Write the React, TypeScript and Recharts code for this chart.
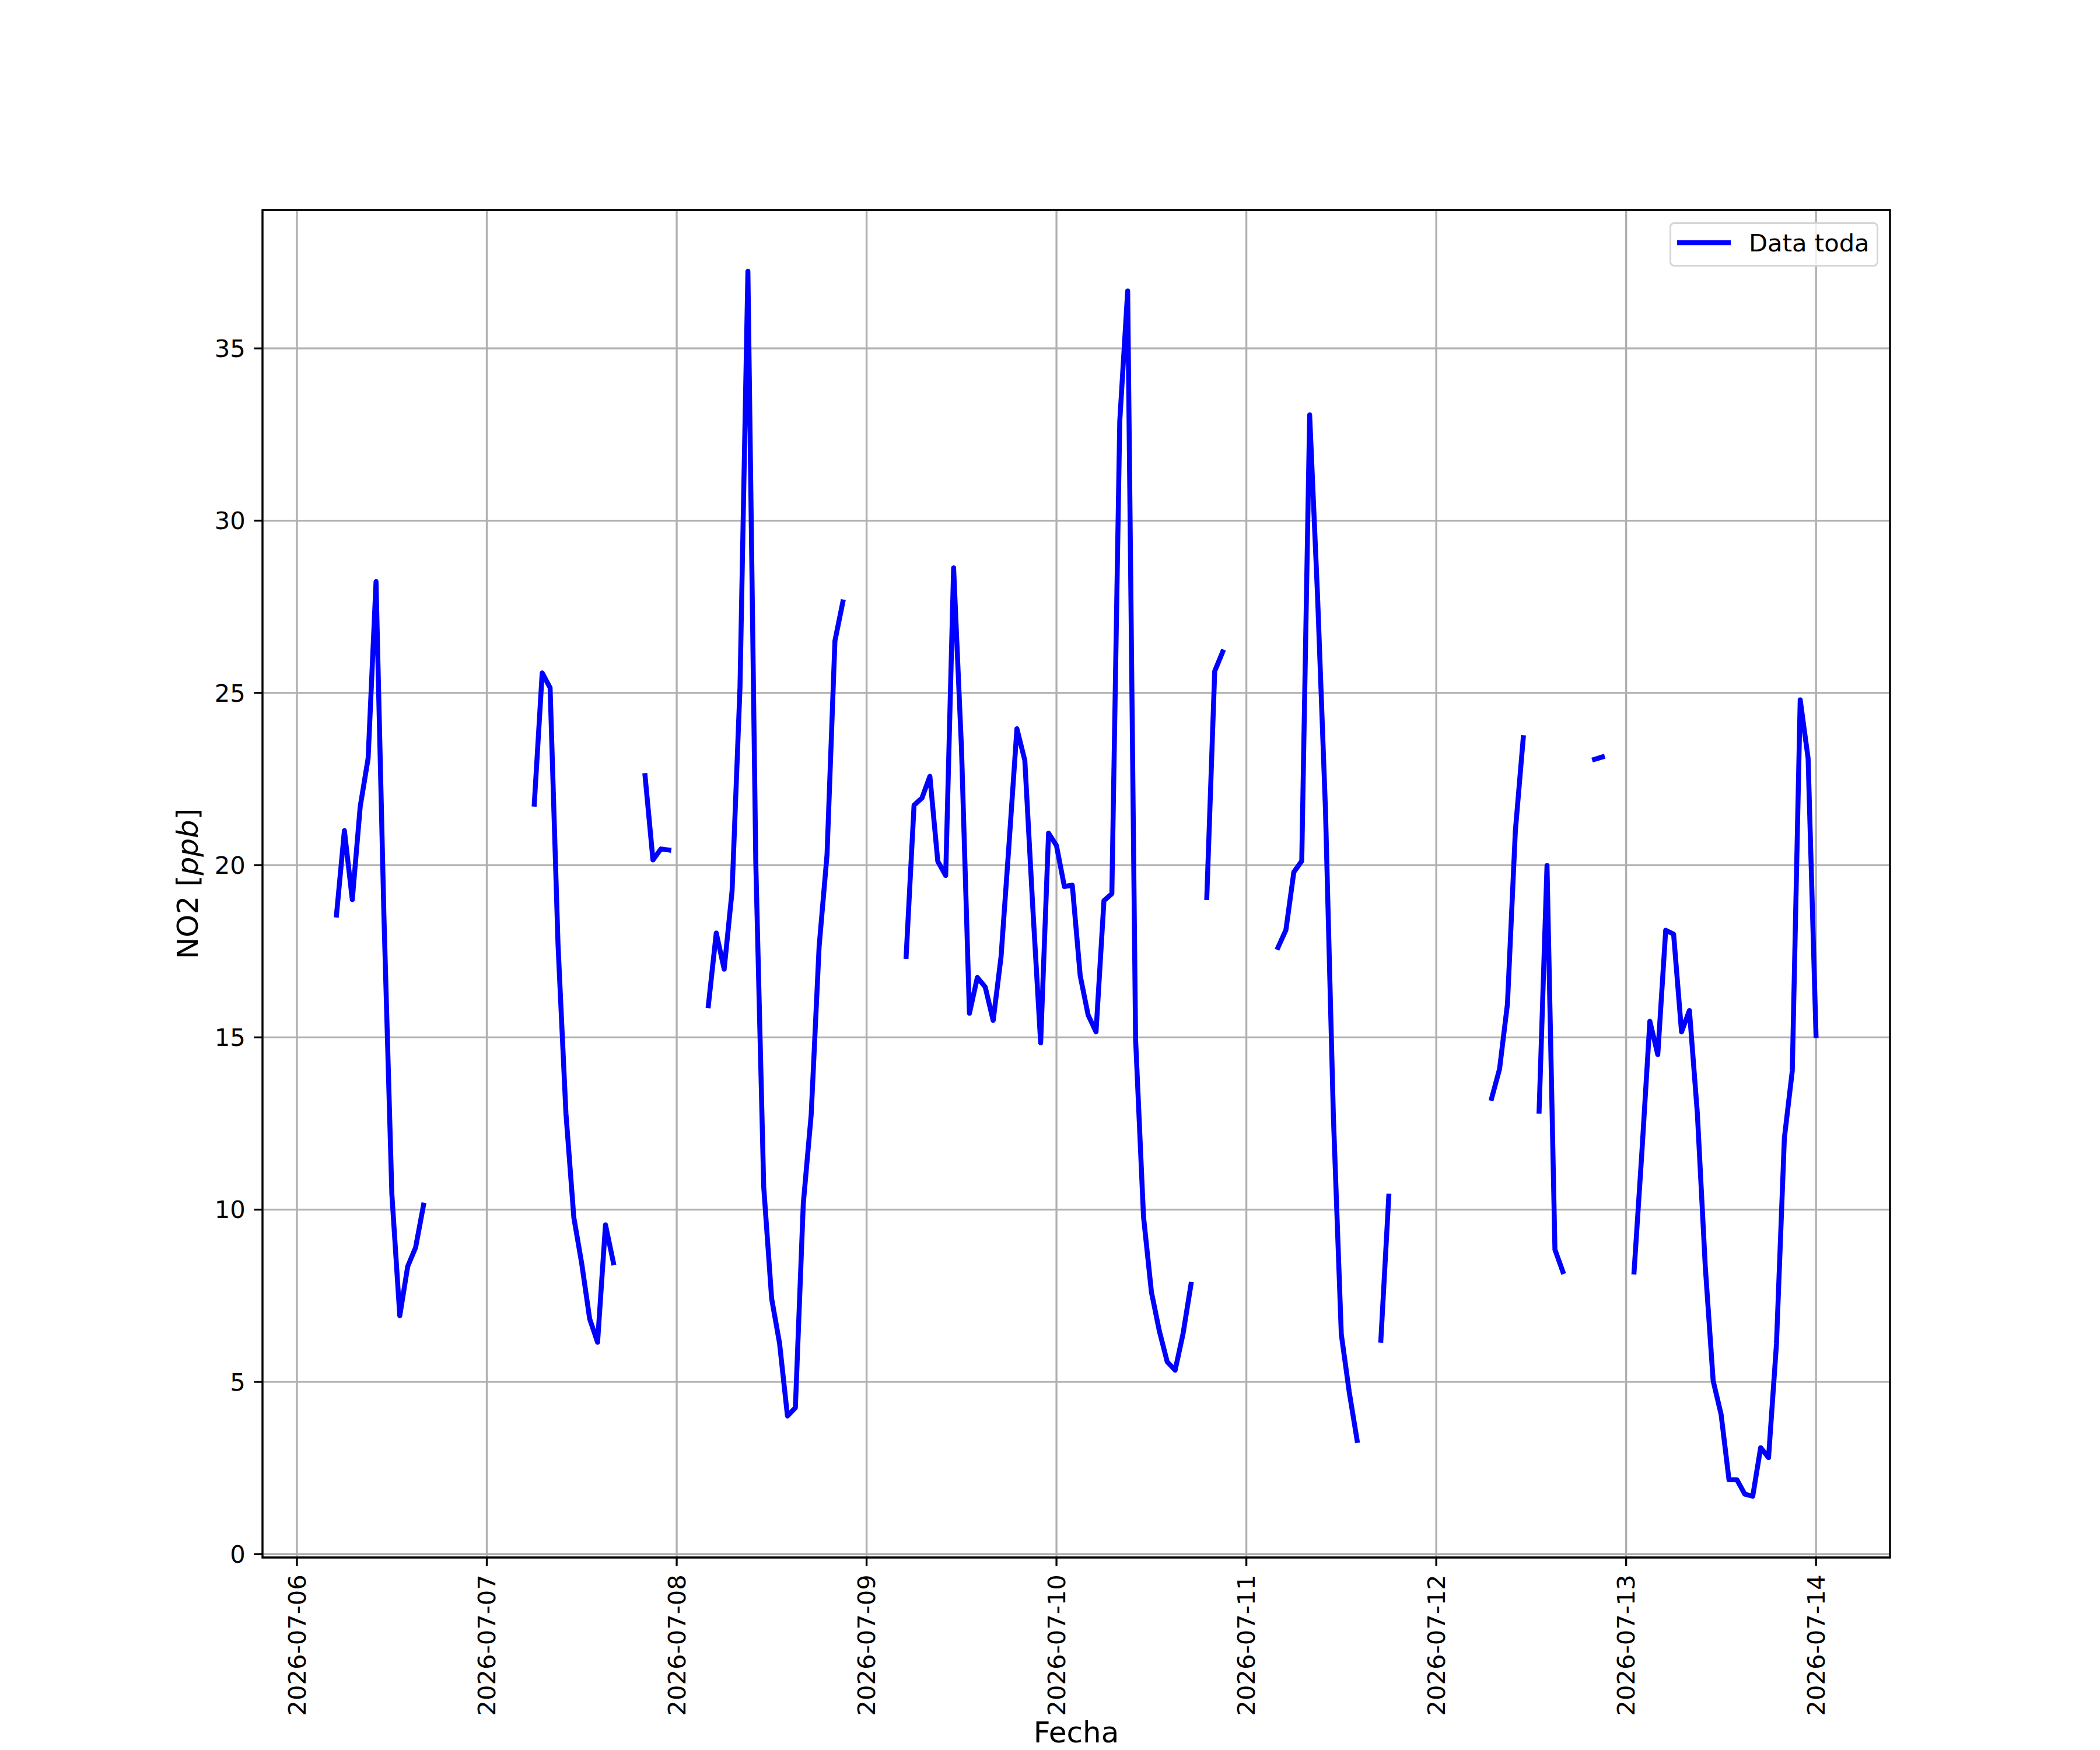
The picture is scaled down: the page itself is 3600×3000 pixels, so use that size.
import {
  CartesianGrid,
  Legend,
  Line,
  LineChart,
  ReferenceArea,
  XAxis,
  YAxis,
} from "recharts";

// Hourly NO2 readings, one array per day (index = hour of day), null = no reading.
const N = null;

const dayLabels = [
  "2026-07-06",
  "2026-07-07",
  "2026-07-08",
  "2026-07-09",
  "2026-07-10",
  "2026-07-11",
  "2026-07-12",
  "2026-07-13",
  "2026-07-14",
];

const no2_0706 = [N, N, N, N, N, 18.55, 21.0, 19.0, 21.7, 23.1, 28.23, 18.5, 10.45, 6.92, 8.35, 8.9, 10.13, N, N, N, N, N, N, N];
const no2_0707 = [N, N, N, N, N, N, 21.77, 25.58, 25.15, 17.7, 12.8, 9.77, 8.43, 6.83, 6.15, 9.56, 8.46, N, N, N, 22.6, 20.15, 20.47, 20.44];
const no2_0708 = [N, N, N, N, 15.92, 18.03, 16.98, 19.25, 25.16, 37.24, 20.05, 10.66, 7.42, 6.12, 4.01, 4.25, 10.17, 12.76, 17.63, 20.3, 26.51, 27.64, N, N];
const no2_0709 = [N, N, N, N, N, 17.35, 21.74, 21.95, 22.58, 20.11, 19.7, 28.63, 23.36, 15.7, 16.74, 16.46, 15.49, 17.35, 20.6, 23.96, 23.04, 18.8, 14.84, 20.93];
const no2_0710 = [20.57, 19.38, 19.42, 16.79, 15.65, 15.16, 18.97, 19.17, 32.89, 36.67, 14.95, 9.8, 7.61, 6.48, 5.58, 5.34, 6.4, 7.83, N, 19.06, 25.63, 26.19, N, N];
const no2_0711 = [N, N, N, N, 17.61, 18.12, 19.8, 20.12, 33.07, 27.8, 21.6, 12.7, 6.38, 4.71, 3.3, N, N, 6.21, 10.39, N, N, N, N, N];
const no2_0712 = [N, N, N, N, N, N, N, 13.23, 14.08, 15.97, 21.0, 23.7, N, 12.86, 19.99, 8.84, 8.2, N, N, N, 23.07, 23.14, N, N];
const no2_0713 = [N, 8.19, 11.7, 15.47, 14.5, 18.11, 18.0, 15.16, 15.78, 12.8, 8.36, 5.03, 4.06, 2.16, 2.16, 1.74, 1.68, 3.09, 2.8, 6.1, 12.08, 14.03, 24.8, 23.1];
const no2_0714 = [15.05];

const dailySeries = [no2_0706, no2_0707, no2_0708, no2_0709, no2_0710, no2_0711, no2_0712, no2_0713, no2_0714];

const yTicks = [0, 5, 10, 15, 20, 25, 30, 35];

const HOUR = 3600 * 1000;
const dayStart = (d: string) => Date.parse(`${d}T00:00:00Z`);

const data = dailySeries.flatMap((values, i) =>
  values.map((v, h) => ({ t: dayStart(dayLabels[i]) + h * HOUR, no2: v }))
);

// matplotlib-style 5% margins around the real readings
const valid = data.filter((d) => d.no2 !== null);
const tMin = Math.min(...valid.map((d) => d.t));
const tMax = Math.max(...valid.map((d) => d.t));
const vMin = Math.min(...valid.map((d) => d.no2 as number));
const vMax = Math.max(...valid.map((d) => d.no2 as number));
const xDomain = [tMin - 0.05 * (tMax - tMin), tMax + 0.05 * (tMax - tMin)];
const yDomain = [vMin - 0.05 * (vMax - vMin), vMax + 0.05 * (vMax - vMin)];
const xTicks = dayLabels.map(dayStart);

const FONT = "DejaVu Sans";
const TICK_PX = 41.7;
const LABEL_PX = 50;
const PT = 300 / 72;

function DateTick({ x, y, payload }: { x: number; y: number; payload: { value: number } }) {
  const label = new Date(payload.value).toISOString().slice(0, 10);
  return (
    <text
      x={x}
      y={y}
      dy="0.35em"
      transform={`rotate(-90, ${x}, ${y})`}
      textAnchor="end"
      fontFamily={FONT}
      fontSize={TICK_PX}
      fill="#000"
    >
      {label}
    </text>
  );
}

function XLabel({ viewBox }: { viewBox?: { x: number; y: number; width: number; height: number } }) {
  if (!viewBox) return null;
  return (
    <text
      x={viewBox.x + viewBox.width / 2}
      y={viewBox.y + 317}
      textAnchor="middle"
      fontFamily={FONT}
      fontSize={LABEL_PX}
      fill="#000"
    >
      Fecha
    </text>
  );
}

function YLabel({ viewBox }: { viewBox?: { x: number; y: number; width: number; height: number } }) {
  if (!viewBox) return null;
  const cx = viewBox.x + 321;
  const cy = viewBox.y + viewBox.height / 2;
  return (
    <text
      x={cx}
      y={cy}
      dy="0.35em"
      transform={`rotate(-90, ${cx}, ${cy})`}
      textAnchor="middle"
      fontFamily={FONT}
      fontSize={LABEL_PX}
      fill="#000"
    >
      <tspan>NO2 [</tspan>
      <tspan fontStyle="italic">ppb</tspan>
      <tspan>]</tspan>
    </text>
  );
}

function LegendBox({ payload }: { payload?: { value: string; color: string }[] }) {
  const item = payload && payload[0];
  if (!item) return null;
  return (
    <div
      style={{
        position: "relative",
        width: 358,
        height: 76,
        boxSizing: "border-box",
        border: "3.3px solid #d6d6d6",
        borderRadius: 8,
        background: "rgba(255,255,255,0.8)",
      }}
    >
      <svg width={358} height={76} style={{ position: "absolute", left: -3.3, top: -3.3 }}>
        <line x1={13} x2={105} y1={35} y2={35} stroke={item.color} strokeWidth={8.5} />
        <text x={136} y={50} fontFamily={FONT} fontSize={TICK_PX} fill="#000">
          {item.value}
        </text>
      </svg>
    </div>
  );
}

export default function App() {
  return (
    <div style={{ position: "absolute", left: 0, top: 0, width: 3600, height: 3000, background: "#fff" }}>
      <LineChart
        width={3600}
        height={3000}
        data={data}
        margin={{ top: 360, right: 360, bottom: 0, left: 0 }}
        style={{ fontFamily: FONT }}
      >
        <CartesianGrid stroke="#b0b0b0" strokeWidth={0.8 * PT} />
        <XAxis
          dataKey="t"
          type="number"
          domain={xDomain}
          allowDataOverflow
          ticks={xTicks}
          interval={0}
          height={330}
          axisLine={false}
          tickLine={{ stroke: "#000", strokeWidth: 0.8 * PT }}
          tickSize={3.5 * PT}
          tickMargin={3.5 * PT}
          tick={DateTick}
          label={<XLabel />}
        />
        <YAxis
          type="number"
          domain={yDomain}
          allowDataOverflow
          ticks={yTicks}
          interval={0}
          width={450}
          axisLine={false}
          tickLine={{ stroke: "#000", strokeWidth: 0.8 * PT }}
          tickSize={3.5 * PT}
          tickMargin={3.5 * PT}
          tick={{ fill: "#000", fontSize: TICK_PX, fontFamily: FONT }}
          label={<YLabel />}
        />
        <ReferenceArea
          x1={xDomain[0]}
          x2={xDomain[1]}
          y1={yDomain[0]}
          y2={yDomain[1]}
          fill="none"
          stroke="#000"
          strokeWidth={0.8 * PT}
          ifOverflow="visible"
        />
        <Line
          type="linear"
          dataKey="no2"
          name="Data toda"
          stroke="#0000ff"
          strokeWidth={8.5}
          strokeLinejoin="round"
          strokeLinecap="square"
          dot={false}
          activeDot={false}
          connectNulls={false}
          isAnimationActive={false}
        />
        <Legend
          layout="vertical"
          align="center"
          verticalAlign="middle"
          wrapperStyle={{ top: 381, left: 2862, width: 358, height: 76 }}
          content={<LegendBox />}
        />
      </LineChart>
    </div>
  );
}
